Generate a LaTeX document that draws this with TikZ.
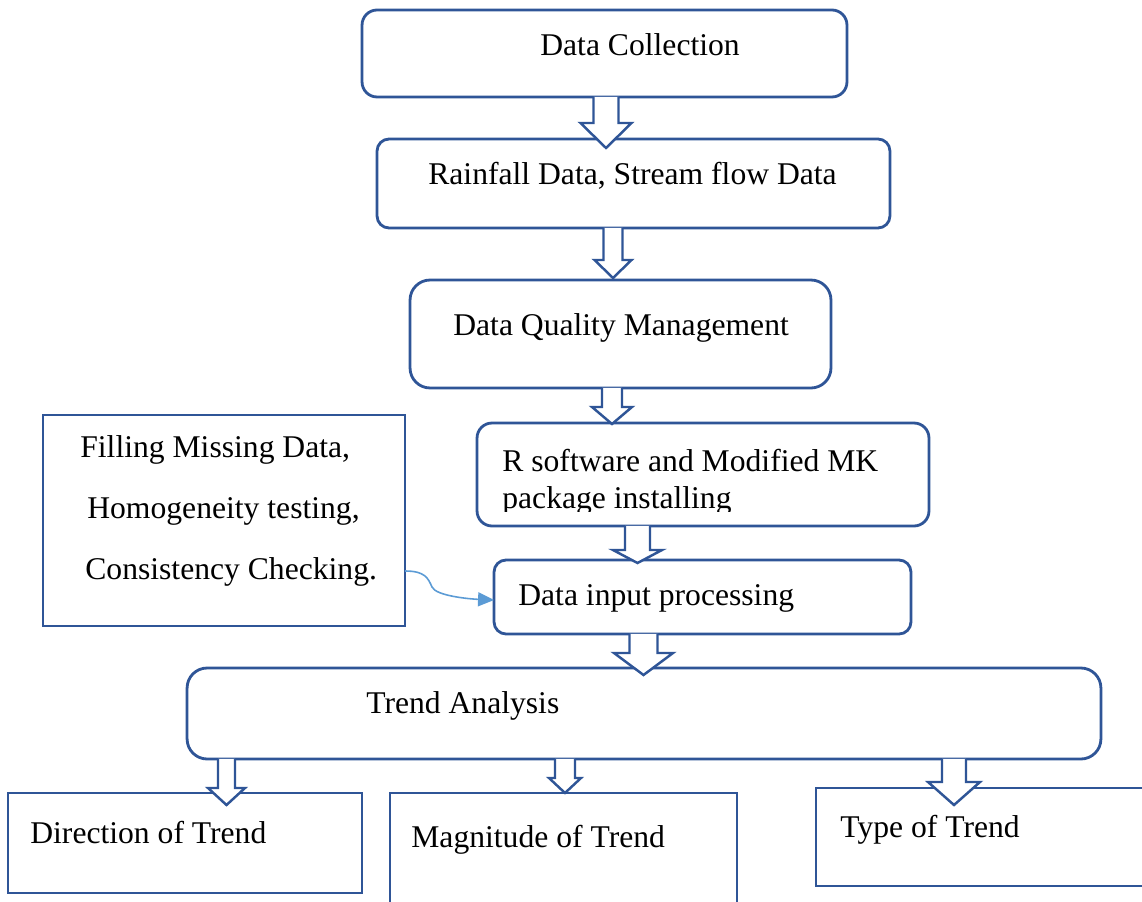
\documentclass[tikz,border=0pt]{standalone}
\usepackage{fontspec}
\setmainfont{Liberation Serif}
\usetikzlibrary{arrows.meta}
\definecolor{FlowBlue}{HTML}{2F5597}
\definecolor{LinkBlue}{HTML}{5B9BD5}
% hollow block arrow: top node, x centre, shaft half, head half, y head base, y tip
\newcommand{\hollowdown}[6]{%
  \filldraw[fill=white,draw=FlowBlue,line width=1.4pt,line join=miter]
    (#2-#3,0 |- #1.south) -- (#2-#3,#5) -- (#2-#4,#5) -- (#2,#6)
    -- (#2+#4,#5) -- (#2+#3,#5) -- (#2+#3,0 |- #1.south);}

\begin{document}
\begin{tikzpicture}[x=0.02cm,y=-0.02cm,
  box/.style={draw=FlowBlue,line width=1.6pt,inner sep=0pt,outer sep=0pt},
  lbl/.style={anchor=base west,inner sep=0pt,font=\fontsize{18}{22}\selectfont},
  link/.style={draw=LinkBlue,line width=0.9pt,-{Triangle[length=0.32cm,width=0.28cm]}}]
\clip (0,0) rectangle (1142,902);
\fill[white] (0,0) rectangle (1142,902);
% boxes
\node[box,rounded corners=0.3cm,minimum width=9.70cm,minimum height=1.74cm] (dc) at (604.5,53.5) {};
\node[box,rounded corners=0.24cm,minimum width=10.26cm,minimum height=1.78cm] (rf) at (633.5,183.5) {};
\node[box,rounded corners=0.4cm,minimum width=8.42cm,minimum height=2.16cm] (dq) at (620.5,334) {};
\node[box,rounded corners=0.3cm,minimum width=9.04cm,minimum height=2.06cm] (rs) at (703,474.5) {};
\node[box,rounded corners=0.24cm,minimum width=8.34cm,minimum height=1.48cm] (inp) at (702.5,597) {};
\node[box,minimum width=7.24cm,minimum height=4.22cm] (prep) at (224,520.5) {};
\node[box,rounded corners=0.4cm,minimum width=18.28cm,minimum height=1.82cm] (ta) at (644,713.5) {};
\node[box,minimum width=7.08cm,minimum height=2.00cm] (dir) at (185,843) {};
\node[box,minimum width=6.94cm,minimum height=2.34cm] (mag) at (563.5,851.5) {};
\node[box,minimum width=7.60cm,minimum height=1.96cm] (typ) at (1006,837) {};
% texts
\node[lbl] (dct) at (540,56) {Data Collection};
\node[lbl] (rft) at (428,185) {Rainfall Data, Stream flow Data};
\node[lbl] (dqt) at (453,335) {Data Quality Management};
\node[lbl] (rst) at (502,471) {R software and Modified MK};
\begin{scope}
\clip (470,420) rectangle (935,511);
\node[lbl] (rst2) at (502,508) {package installing};
\end{scope}
\node[lbl] (inpt) at (518,605) {Data input processing};
\node[lbl] (prep1) at (80,457) {Filling Missing Data,};
\node[lbl] (prep2) at (87,518) {Homogeneity testing,};
\node[lbl] (prep3) at (85,579) {Consistency Checking.};
\node[lbl] (tat) at (366,713) {Trend Analysis};
\node[lbl] (dirt) at (30,843) {Direction of Trend};
\node[lbl] (magt) at (411,847) {Magnitude of Trend};
\node[lbl] (typt) at (840,837) {Type of Trend};
% block arrows
\hollowdown{dc}{606}{12.5}{25.5}{123}{148}
\hollowdown{rf}{613}{9.5}{18.5}{260}{278}
\hollowdown{dq}{612}{10}{20}{407}{424}
\hollowdown{rs}{637.5}{12.5}{24.5}{550}{563}
\hollowdown{inp}{643.5}{14}{29.5}{653}{675}
\hollowdown{ta}{226.5}{8.5}{18.5}{788}{805}
\hollowdown{ta}{565}{10}{16}{778}{793}
\hollowdown{ta}{954}{12}{26}{782}{805}
% side link
\draw[link] (prep.east |- 0,571) .. controls (425,571) and (428,578) .. (432,587)
  .. controls (436,596) and (470,599) .. (inp.west |- 0,600);
\end{tikzpicture}
\end{document}
